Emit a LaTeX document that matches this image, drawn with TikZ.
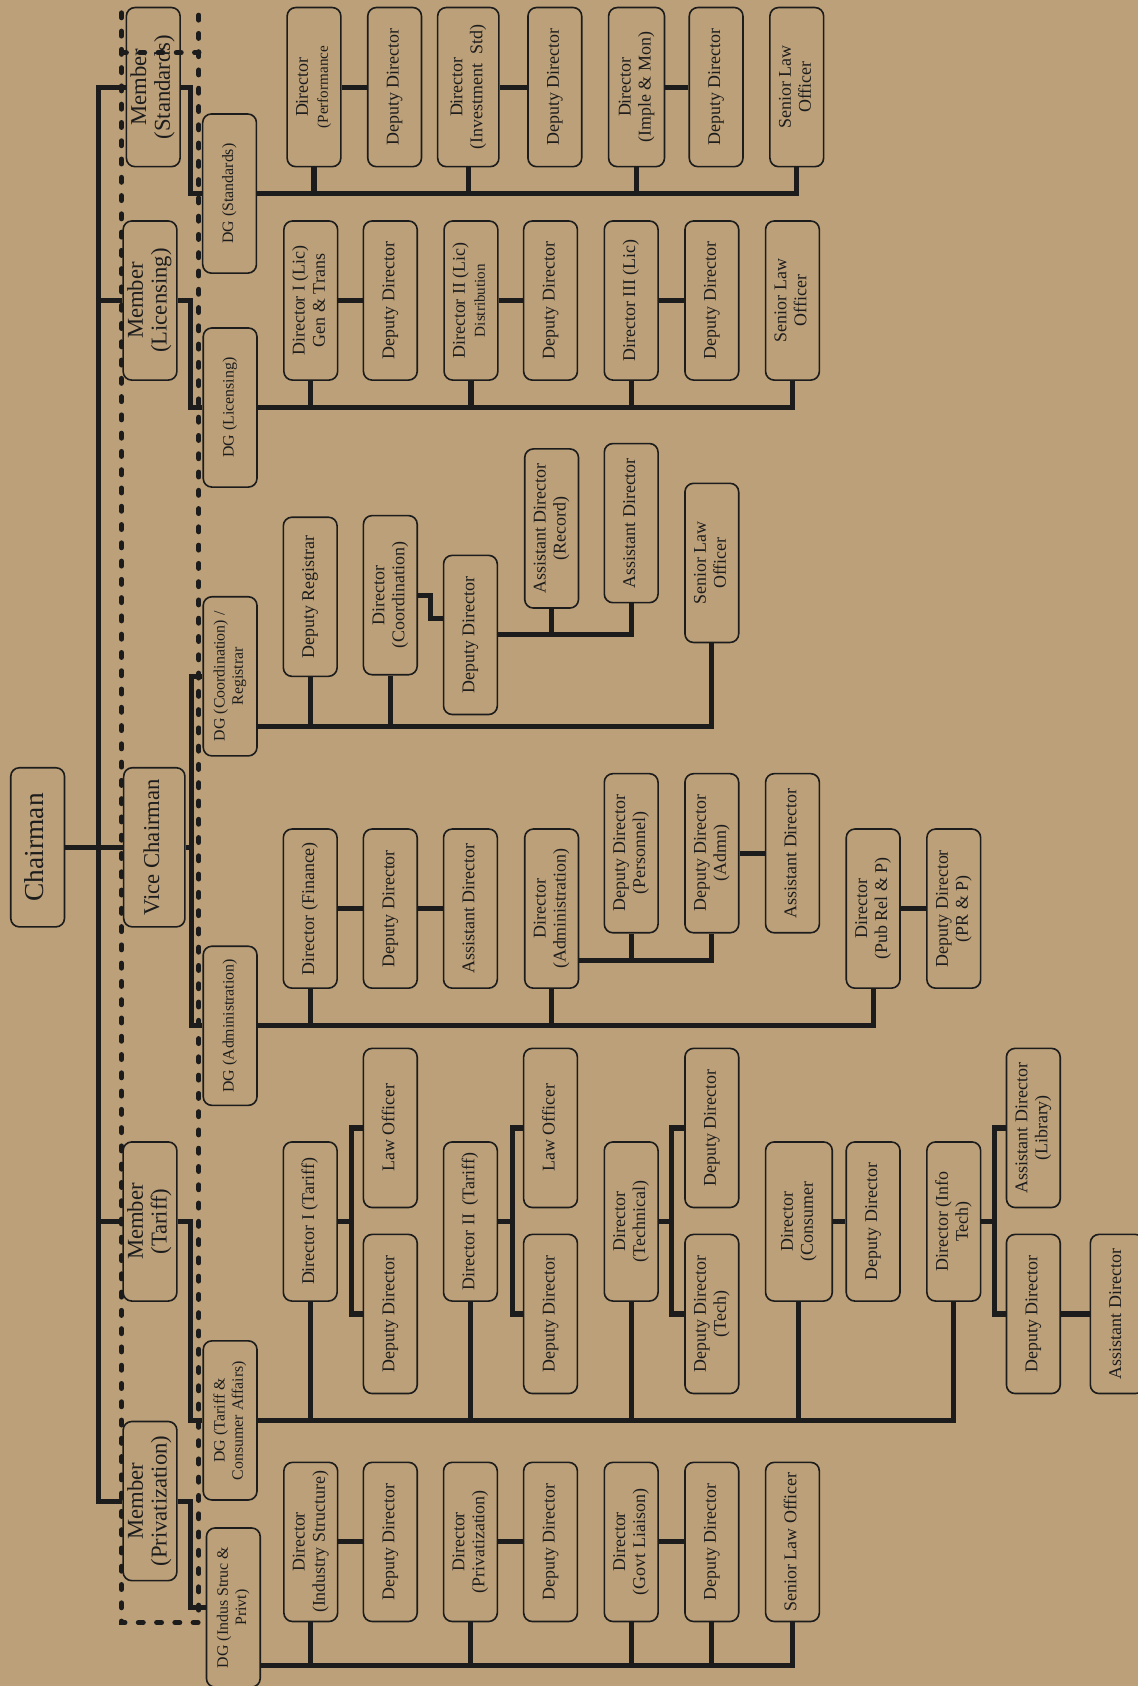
\documentclass[tikz,border=0pt]{standalone}
\usepackage{fontspec}
\setmainfont{Liberation Serif}
\usepackage{graphicx}
\usetikzlibrary{calc}
\definecolor{tanbg}{RGB}{188,160,121}
\definecolor{inkline}{RGB}{28,28,28}
\newcommand{\vlab}[1]{\rotatebox{90}{\begin{tabular}{@{}c@{}}#1\end{tabular}}}
\newcommand{\sublab}[1]{{\fontsize{8}{9}\selectfont #1}}
\tikzset{gbox/.style={
    rectangle,
    draw=inkline,
    line width=0.85pt,
    rounded corners=0.16cm,
    inner sep=0pt,
    text=inkline,
    minimum width=1cm,
    minimum height=2.96cm
  },
  chairbox/.style={gbox,font=\fontsize{14.5}{16}\selectfont},
  membox/.style={gbox,font=\fontsize{12}{12.5}\selectfont},
  dgbox/.style={gbox,font=\fontsize{8.4}{9.6}\selectfont},
  offbox/.style={gbox,font=\fontsize{9.5}{10.6}\selectfont},
  link/.style={draw=inkline,line width=2.7pt},
  fence/.style={draw=inkline,line width=2.7pt,line cap=round,dash pattern=on 0.09cm off 0.25cm},
}
\begin{document}
\begin{tikzpicture}[x=0.02cm,y=-0.02cm]
  \fill[tanbg] (0,0) rectangle (1058,1568);
  \useasboundingbox (0,0) rectangle (1058,1568);

  \node[chairbox] (chair) at (35,788) {\vlab{Chairman}};
  \node[membox] (mstd) at (142.5,81) {\vlab{Member\\(Standards)}};
  \node[membox] (mlic) at (139.5,279.5) {\vlab{Member\\(Licensing)}};
  \node[membox,minimum width=1.14cm] (vice) at (143.5,788) {\vlab{Vice Chairman}};
  \node[membox] (mtar) at (139.5,1136) {\vlab{Member\\(Tariff)}};
  \node[membox] (mpri) at (139.5,1396) {\vlab{Member\\(Privatization)}};

  \node[dgbox] (dgstd) at (213.5,180) {\vlab{DG (Standards)}};
  \node[dgbox] (dglic) at (214,379) {\vlab{DG (Licensing)}};
  \node[dgbox] (dgcoo) at (214,629) {\vlab{DG (Coordination) /\\Registrar}};
  \node[dgbox] (dgadm) at (214,954) {\vlab{DG (Administration)}};
  \node[dgbox] (dgtar) at (214,1321) {\vlab{DG (Tariff \&\\Consumer Affairs)}};
  \node[dgbox] (dgpri) at (217,1495) {\vlab{DG (Indus Struc \&\\Privt)}};

  \node[offbox] (s1) at (292,81) {\vlab{Director\\\sublab{(Performance}}};
  \node[offbox] (s2) at (367,81) {\vlab{Deputy Director}};
  \node[offbox,minimum width=1.14cm] (s3) at (435.5,81) {\vlab{Director\\(Investment~~Std)}};
  \node[offbox] (s4) at (516,81) {\vlab{Deputy Director}};
  \node[offbox,minimum width=1.04cm] (s5) at (592,81) {\vlab{Director\\(Imple \& Mon)}};
  \node[offbox] (s6) at (666,81) {\vlab{Deputy Director}};
  \node[offbox] (s7) at (741,81) {\vlab{Senior Law\\Officer}};

  \node[offbox] (l1) at (289,279.5) {\vlab{Director I (Lic)\\Gen \& Trans}};
  \node[offbox] (l2) at (363,279.5) {\vlab{Deputy Director}};
  \node[offbox] (l3) at (438,279.5) {\vlab{Director II (Lic)\\\sublab{Distribution}}};
  \node[offbox] (l4) at (512,279.5) {\vlab{Deputy Director}};
  \node[offbox] (l5) at (587,279.5) {\vlab{Director III (Lic)}};
  \node[offbox] (l6) at (662,279.5) {\vlab{Deputy Director}};
  \node[offbox] (l7) at (737,279.5) {\vlab{Senior Law\\Officer}};

  \node[offbox] (c1) at (288.5,555) {\vlab{Deputy Registrar}};
  \node[offbox] (c2) at (363,553.5) {\vlab{Director\\(Coordination)}};
  \node[offbox] (c3) at (437.5,590.5) {\vlab{Deputy Director}};
  \node[offbox] (c4) at (513,491.5) {\vlab{Assistant Director\\(Record)}};
  \node[offbox] (c5) at (587,486.5) {\vlab{Assistant Director}};
  \node[offbox] (c6) at (662,523.5) {\vlab{Senior Law\\Officer}};

  \node[offbox] (a1) at (288.5,845) {\vlab{Director (Finance)}};
  \node[offbox] (a2) at (363,845) {\vlab{Deputy Director}};
  \node[offbox] (a3) at (437.5,845) {\vlab{Assistant Director}};
  \node[offbox] (a4) at (513,845) {\vlab{Director\\(Administration)}};
  \node[offbox] (a5) at (587,793.5) {\vlab{Deputy Director\\(Personnel)}};
  \node[offbox] (a6) at (662,793.5) {\vlab{Deputy Director\\(Admn)}};
  \node[offbox] (a7) at (737,793.5) {\vlab{Assistant Director}};
  \node[offbox] (a8) at (812,845) {\vlab{Director\\(Pub Rel \& P)}};
  \node[offbox] (a9) at (887,845) {\vlab{Deputy Director\\(PR \& P)}};

  \node[offbox] (t1) at (288.5,1136) {\vlab{Director I (Tariff)}};
  \node[offbox] (t2) at (363,1049) {\vlab{Law Officer}};
  \node[offbox] (t3) at (363,1222) {\vlab{Deputy Director}};
  \node[offbox] (t4) at (437.5,1136) {\vlab{Director II~~(Tariff)}};
  \node[offbox] (t5) at (512,1049) {\vlab{Law Officer}};
  \node[offbox] (t6) at (512,1222) {\vlab{Deputy Director}};
  \node[offbox] (t7) at (587,1136) {\vlab{Director\\(Technical)}};
  \node[offbox] (t8) at (662,1049) {\vlab{Deputy Director}};
  \node[offbox] (t9) at (662,1222) {\vlab{Deputy Director\\(Tech)}};
  \node[offbox,minimum width=1.24cm] (t10) at (743,1136) {\vlab{Director\\(Consumer}};
  \node[offbox] (t11) at (812,1136) {\vlab{Deputy Director}};
  \node[offbox] (t12) at (887,1136) {\vlab{Director (Info\\Tech)}};
  \node[offbox] (t13) at (961,1049) {\vlab{Assistant Director\\(Library)}};
  \node[offbox] (t14) at (961,1222) {\vlab{Deputy Director}};
  \node[offbox] (t15) at (1039,1222) {\vlab{Assistant Director}};

  \node[offbox] (p1) at (289,1434) {\vlab{Director\\(Industry Structure)}};
  \node[offbox] (p2) at (363,1434) {\vlab{Deputy Director}};
  \node[offbox] (p3) at (437.5,1434) {\vlab{Director\\(Privatization)}};
  \node[offbox] (p4) at (512,1434) {\vlab{Deputy Director}};
  \node[offbox] (p5) at (587,1434) {\vlab{Director\\(Govt Liaison)}};
  \node[offbox] (p6) at (662,1434) {\vlab{Deputy Director}};
  \node[offbox] (p7) at (737,1434) {\vlab{Senior Law Officer}};

  \coordinate (trunk) at (92,788);
  \coordinate (vbar) at (178,788);
  \draw[link] (chair.east) -- (vice.west);
  \draw[link] (mstd.west) -| (trunk) |- (mpri.west);
  \draw[link] (mlic.west) -| (trunk);
  \draw[link] (mtar.west) -| (trunk);
  \draw[link] (mstd.east) -- ++(9,0) |- (dgstd.west);
  \draw[link] (mlic.east) -- ++(12,0) |- (dglic.west);
  \draw[link] (vice.east) -- (vbar);
  \draw[link] (dgcoo.west) -| (vbar) |- (dgadm.west);
  \draw[link] (mtar.east) -- ++(12,0) |- (dgtar.west);
  \draw[link] (mpri.east) -- ++(12,0) |- (dgpri.west);

  \draw[link] (dgstd.east) -| (s7.south);
  \draw[link] (s1.south) -- (s1.south |- dgstd.east);
  \draw[link] (s3.south) -- (s3.south |- dgstd.east);
  \draw[link] (s5.south) -- (s5.south |- dgstd.east);
  \draw[link] (s1.east) -- (s2.west);
  \draw[link] (s3.east) -- (s4.west);
  \draw[link] (s5.east) -- (s6.west);

  \draw[link] (dglic.east) -| (l7.south);
  \draw[link] (l1.south) -- (l1.south |- dglic.east);
  \draw[link] (l3.south) -- (l3.south |- dglic.east);
  \draw[link] (l5.south) -- (l5.south |- dglic.east);
  \draw[link] (l1.east) -- (l2.west);
  \draw[link] (l3.east) -- (l4.west);
  \draw[link] (l5.east) -- (l6.west);

  \coordinate (coobus) at ($(dgcoo.east)+(0,47)$);
  \draw[link] (coobus) -| (c6.south);
  \draw[link] (c1.south) -- (c1.south |- coobus);
  \draw[link] (c2.south) -- (c2.south |- coobus);
  \draw[link] (c2.east) -- ++(12,0) |- ($(c3.west)+(0,-15.5)$);
  \draw[link] (c3.east) -| (c5.south);
  \draw[link] (c4.south) -- (c4.south |- c3.east);

  \draw[link] (dgadm.east) -| (a8.south);
  \draw[link] (a1.south) -- (a1.south |- dgadm.east);
  \draw[link] (a4.south) -- (a4.south |- dgadm.east);
  \draw[link] (a1.east) -- (a2.west);
  \draw[link] (a2.east) -- (a3.west);
  \coordinate (admbus) at ($(a4.east)+(0,48)$);
  \draw[link] (admbus) -| (a6.south);
  \draw[link] (a5.south) -- (a5.south |- admbus);
  \draw[link] (a6.east) -- (a7.west);
  \draw[link] (a8.east) -- (a9.west);

  \draw[link] (dgtar.east) -| (t12.south);
  \draw[link] (t1.south) -- (t1.south |- dgtar.east);
  \draw[link] (t4.south) -- (t4.south |- dgtar.east);
  \draw[link] (t7.south) -- (t7.south |- dgtar.east);
  \draw[link] (t10.south) -- (t10.south |- dgtar.east);
  \draw[link] (t1.east) -- ++(13,0) coordinate (k1);
  \draw[link] (t2.west) -| (k1) |- (t3.west);
  \draw[link] (t4.east) -- ++(13,0) coordinate (k2);
  \draw[link] (t5.west) -| (k2) |- (t6.west);
  \draw[link] (t7.east) -- ++(12,0) coordinate (k3);
  \draw[link] (t8.west) -| (k3) |- (t9.west);
  \draw[link] (t12.east) -- ++(12,0) coordinate (k4);
  \draw[link] (t13.west) -| (k4) |- (t14.west);
  \draw[link] (t10.east) -- (t11.west);
  \draw[link] (t14.east) -- (t15.west);

  \coordinate (pribus) at ($(dgpri.east)+(0,54)$);
  \draw[link] (pribus) -| (p7.south);
  \draw[link] (p1.south) -- (p1.south |- pribus);
  \draw[link] (p3.south) -- (p3.south |- pribus);
  \draw[link] (p5.south) -- (p5.south |- pribus);
  \draw[link] (p6.south) -- (p6.south |- pribus);
  \draw[link] (p1.east) -- (p2.west);
  \draw[link] (p3.east) -- (p4.west);
  \draw[link] (p5.east) -- (p6.west);

  \draw[fence] (113,12) -- (113,1509) -- (185,1509) -- (185,12);
  \draw[fence] (113,49) -- (185,49);
\end{tikzpicture}
\end{document}
